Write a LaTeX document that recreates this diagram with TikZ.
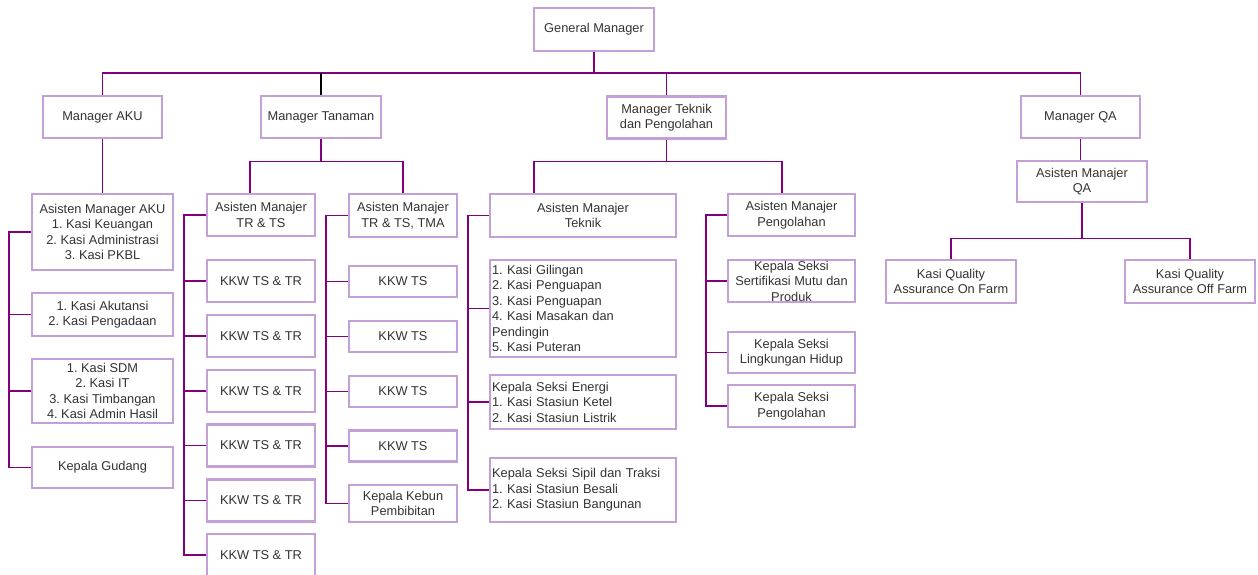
\documentclass[tikz,border=0pt]{standalone}
\usepackage{fontspec}
\setmainfont{Liberation Sans}
\definecolor{boxline}{RGB}{195,160,215}
\definecolor{linkcol}{RGB}{128,0,128}
\definecolor{txt}{RGB}{51,51,51}

\begin{document}
\begin{tikzpicture}[x=1pt, y=-1pt,
	box/.style={draw=boxline, line width=2.2pt, fill=white, text=txt, align=center, inner sep=0pt, font=\fontsize{12.8}{15.5}\selectfont\frenchspacing},
	lbox/.style={box, align=left, inner xsep=2pt},
	link/.style={draw=linkcol, line width=1.2pt}]
	\useasboundingbox (0,0) rectangle (1258,575);

	% Top
	\node[box, minimum width=120pt, minimum height=43pt] (gm) at (594,29.5) {General Manager};

	% Managers
	\node[box, minimum width=119pt, minimum height=42pt] (aku) at (102.5,117) {Manager AKU};
	\node[box, minimum width=120pt, minimum height=42pt] (tan) at (321,117) {Manager Tanaman};
	\node[box, minimum width=119pt, minimum height=42pt] (tek) at (666.5,117.5) {Manager Teknik\\dan Pengolahan};
	\node[box, minimum width=119pt, minimum height=42pt] (qa) at (1080.5,117) {Manager QA};

	% AKU column
	\node[box, minimum width=141pt, minimum height=76pt] (amaku) at (102.5,232) {Asisten Manager AKU\\1. Kasi Keuangan\\2. Kasi Administrasi\\3. Kasi PKBL};
	\node[box, minimum width=141pt, minimum height=43pt] (akt) at (102.5,314.5) {1. Kasi Akutansi\\2. Kasi Pengadaan};
	\node[box, minimum width=141pt, minimum height=64pt] (sdm) at (102.5,391) {1. Kasi SDM\\2. Kasi IT\\3. Kasi Timbangan\\4. Kasi Admin Hasil};
	\node[box, minimum width=141pt, minimum height=41pt] (kgud) at (102.5,467.5) {Kepala Gudang};

	% Tanaman: TR & TS
	\node[box, minimum width=108pt, minimum height=42pt] (amts) at (261,215) {Asisten Manajer\\TR \& TS};
	\node[box, minimum width=108pt, minimum height=42pt] (kkw1) at (261,281) {KKW TS \& TR};
	\node[box, minimum width=108pt, minimum height=42pt] (kkw2) at (261,336) {KKW TS \& TR};
	\node[box, minimum width=108pt, minimum height=42pt] (kkw3) at (261,391) {KKW TS \& TR};
	\node[box, minimum width=108pt, minimum height=42pt] (kkw4) at (261,445.5) {KKW TS \& TR};
	\node[box, minimum width=108pt, minimum height=42pt] (kkw5) at (261,500.5) {KKW TS \& TR};
	\node[box, minimum width=108pt, minimum height=42pt] (kkw6) at (261,555) {KKW TS \& TR};

	% Tanaman: TR & TS, TMA
	\node[box, minimum width=108pt, minimum height=43pt] (amtma) at (403,215.5) {Asisten Manajer\\TR \& TS, TMA};
	\node[box, minimum width=108pt, minimum height=31pt] (kts1) at (403,281.5) {KKW TS};
	\node[box, minimum width=108pt, minimum height=31pt] (kts2) at (403,336.5) {KKW TS};
	\node[box, minimum width=108pt, minimum height=31pt] (kts3) at (403,391.5) {KKW TS};
	\node[box, minimum width=108pt, minimum height=31pt] (kts4) at (403,446) {KKW TS};
	\node[box, minimum width=108pt, minimum height=37pt] (kebun) at (403,503.5) {Kepala Kebun\\Pembibitan};

	% Teknik
	\node[box, minimum width=186pt, minimum height=43pt] (amtek) at (583,215.5) {Asisten Manajer\\Teknik};
	\node[lbox, text width=181.8pt, minimum height=97pt] (gil) at (583,308.5) {1. Kasi Gilingan\\2. Kasi Penguapan\\3. Kasi Penguapan\\4. Kasi Masakan dan\\Pendingin\\5. Kasi Puteran};
	\node[lbox, text width=181.8pt, minimum height=54pt] (ene) at (583,402) {Kepala Seksi Energi\\1. Kasi Stasiun Ketel\\2. Kasi Stasiun Listrik};
	\node[lbox, text width=181.8pt, minimum height=64pt] (sip) at (583,490) {Kepala Seksi Sipil dan Traksi\\1. Kasi Stasiun Besali\\2. Kasi Stasiun Bangunan};

	% Pengolahan
	\node[box, minimum width=127pt, minimum height=42pt] (amolah) at (791.5,215) {Asisten Manajer\\Pengolahan};
	\node[box, minimum width=127pt, minimum height=42pt] (sert) at (791.5,281) {Kepala Seksi\\Sertifikasi Mutu dan\\Produk};
	\node[box, minimum width=127pt, minimum height=41pt] (ling) at (791.5,352.5) {Kepala Seksi\\Lingkungan Hidup};
	\node[box, minimum width=127pt, minimum height=42pt] (olah) at (791.5,406) {Kepala Seksi\\Pengolahan};

	% QA
	\node[box, minimum width=130pt, minimum height=41pt] (amqa) at (1082,181.5) {Asisten Manajer\\QA};
	\node[box, minimum width=130pt, minimum height=43pt] (qon) at (951,281.5) {Kasi Quality\\Assurance On Farm};
	\node[box, minimum width=130pt, minimum height=43pt] (qoff) at (1190,281.5) {Kasi Quality\\Assurance Off Farm};

	% Lines: General Manager to managers
	\coordinate (bus) at (598,73);
	\draw[link] (gm.south) -- (gm.south |- bus);
	\draw[link] (aku.north) |- (bus) -| (qa.north);
	\draw[link, draw=black] (tan.north) -- (tan.north |- bus);
	\draw[link] (tek.north) -- (tek.north |- bus);

	% Lines: AKU
	\draw[link] (aku.south) -- (amaku.north);
	\draw[link] (amaku.west) -- ++(-22,0) |- (kgud.west);
	\draw[link] (akt.west) -- ++(-22,0);
	\draw[link] (sdm.west) -- ++(-22,0);

	% Lines: Tanaman
	\draw[link] (tan.south) -- ++(0,22) coordinate (tanbus);
	\draw[link] ([xshift=-11pt]amts.north) |- (tanbus) -| (amtma.north);
	\draw[link] (amts.west) -- ++(-22,0) |- (kkw6.west);
	\draw[link] (kkw1.west) -- ++(-22,0);
	\draw[link] (kkw2.west) -- ++(-22,0);
	\draw[link] (kkw3.west) -- ++(-22,0);
	\draw[link] (kkw4.west) -- ++(-22,0);
	\draw[link] (kkw5.west) -- ++(-22,0);
	\draw[link] (amtma.west) -- ++(-22,0) |- (kebun.west);
	\draw[link] (kts1.west) -- ++(-22,0);
	\draw[link] (kts2.west) -- ++(-22,0);
	\draw[link] (kts3.west) -- ++(-22,0);
	\draw[link] (kts4.west) -- ++(-22,0);

	% Lines: Teknik dan Pengolahan
	\draw[link] (tek.south) -- ++(0,22) coordinate (tekbus);
	\draw[link] ([xshift=-49pt]amtek.north) |- (tekbus) -| ([xshift=-9.5pt]amolah.north);
	\draw[link] (amtek.west) -- ++(-21,0) |- (sip.west);
	\draw[link] (gil.west) -- ++(-21,0);
	\draw[link] (ene.west) -- ++(-21,0);
	\draw[link] (amolah.west) -- ++(-21,0) |- (olah.west);
	\draw[link] (sert.west) -- ++(-21,0);
	\draw[link] (ling.west) -- ++(-21,0);

	% Lines: QA
	\draw[link] (qa.south) -- (qa.south |- amqa.north);
	\draw[link] (amqa.south) -- ++(0,35) coordinate (qabus);
	\draw[link] (qon.north) |- (qabus) -| (qoff.north);
\end{tikzpicture}
\end{document}
